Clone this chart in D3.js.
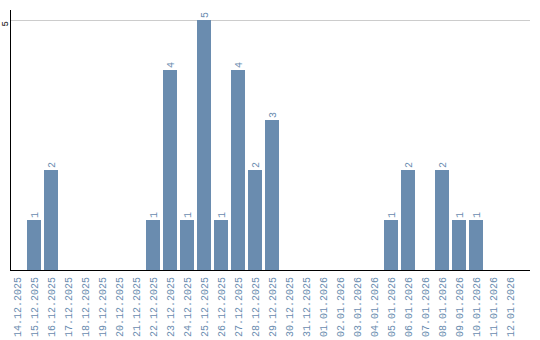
<!DOCTYPE html>
<html lang="en">
<head>
<meta charset="UTF-8">
<title>Daily counts</title>
<script src="https://d3js.org/d3.v7.min.js"></script>
<style>
  body { margin: 0; background: #fff; }
  .label { fill: #6a8caf; font-family: "Liberation Mono", monospace; font-size: 10px; }
  .value { fill: #6a8caf; font-family: "Liberation Mono", monospace; font-size: 10px; }
</style>
</head>
<body>
<div id="chart"></div>
<script>
// dates (x categories)
var dates = ["14.12.2025", "15.12.2025", "16.12.2025", "17.12.2025", "18.12.2025",
  "19.12.2025", "20.12.2025", "21.12.2025", "22.12.2025", "23.12.2025",
  "24.12.2025", "25.12.2025", "26.12.2025", "27.12.2025", "28.12.2025",
  "29.12.2025", "30.12.2025", "31.12.2025", "01.01.2026", "02.01.2026",
  "03.01.2026", "04.01.2026", "05.01.2026", "06.01.2026", "07.01.2026",
  "08.01.2026", "09.01.2026", "10.01.2026", "11.01.2026", "12.01.2026"];
// counts per day
var counts = [0, 1, 2, 0, 0, 0, 0, 0, 1, 4, 1, 5, 1, 4, 2, 3, 0, 0, 0, 0, 0, 0, 1, 2, 0, 2, 1, 1, 0, 0];
var yTicks = [5];

var width = 540, height = 340;
var margin = { top: 10, right: 10, bottom: 70, left: 10 };

var svg = d3.select("#chart").append("svg")
  .attr("width", width)
  .attr("height", height);

var x = d3.scaleBand()
  .domain(dates)
  .range([margin.left, width - margin.right])
  .paddingInner(0.2)
  .paddingOuter(0)
  .align(0)
  .round(true);

var y = d3.scaleLinear()
  .domain([0, 5.2])
  .range([height - margin.bottom, margin.top]);

// grid
svg.selectAll(".grid")
  .data(yTicks)
  .enter().append("line")
  .attr("x1", margin.left).attr("x2", width - margin.right)
  .attr("y1", function (d) { return y(d) + 0.5; })
  .attr("y2", function (d) { return y(d) + 0.5; })
  .attr("stroke", "#cccccc");

var data = dates.map(function (d, i) { return { date: d, value: counts[i] }; })
  .filter(function (d) { return d.value > 0; });

// bars
svg.selectAll(".bar")
  .data(data)
  .enter().append("rect")
  .attr("class", "bar")
  .attr("x", function (d) { return x(d.date); })
  .attr("y", function (d) { return y(d.value); })
  .attr("width", x.bandwidth())
  .attr("height", function (d) { return y(0) - y(d.value); })
  .attr("fill", "#6a8caf");

// value labels
svg.selectAll(".value")
  .data(data)
  .enter().append("text")
  .attr("class", "value")
  .attr("transform", function (d) {
    return "translate(" + (x(d.date) + x.bandwidth() / 2) + "," + (y(d.value) - 2) + ") rotate(-90)";
  })
  .attr("dy", "0.35em")
  .text(function (d) { return d.value; });

// x axis
var xAxis = svg.append("g")
  .attr("transform", "translate(0," + y(0) + ")");
xAxis.append("line")
  .attr("x1", margin.left).attr("x2", width - margin.right)
  .attr("y1", 0.5).attr("y2", 0.5)
  .attr("stroke", "#000");
xAxis.selectAll(".label")
  .data(dates)
  .enter().append("text")
  .attr("class", "label")
  .attr("text-anchor", "end")
  .attr("transform", function (d) {
    return "translate(" + (x(d) + x.bandwidth() / 2) + ",7) rotate(-90)";
  })
  .attr("dy", "0.35em")
  .text(function (d) { return d; });

// y axis
svg.append("line")
  .attr("x1", margin.left + 0.5).attr("x2", margin.left + 0.5)
  .attr("y1", margin.top).attr("y2", y(0))
  .attr("stroke", "#000");
svg.selectAll(".ytick")
  .data(yTicks)
  .enter().append("text")
  .attr("transform", function (d) { return "translate(5," + (y(d) + 1) + ") rotate(-90)"; })
  .attr("text-anchor", "end")
  .attr("dy", "0.35em")
  .style("font-family", "Liberation Mono, monospace")
  .style("font-size", "9px")
  .style("fill", "#000")
  .text(function (d) { return d; });
</script>
</body>
</html>
